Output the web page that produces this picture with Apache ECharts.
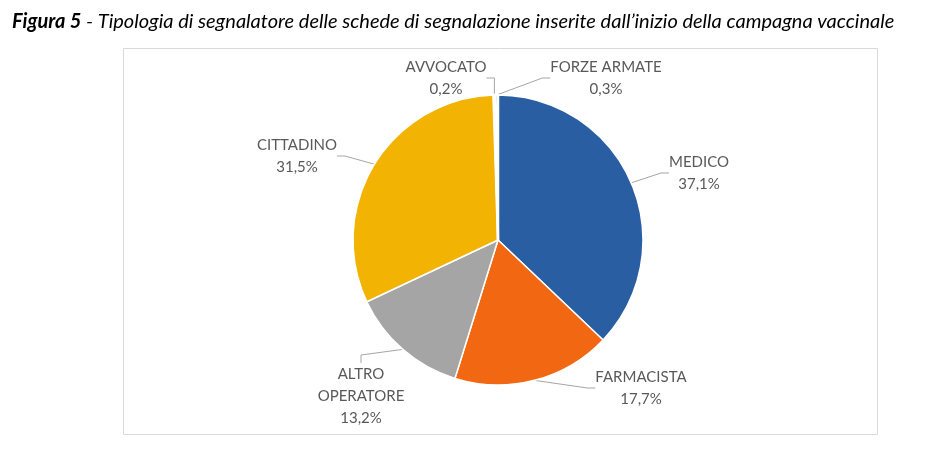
<!DOCTYPE html>
<html>
<head>
<meta charset="utf-8">
<script src="https://cdn.jsdelivr.net/npm/echarts@6/dist/echarts.min.js"></script>
<style>
html,body{margin:0;padding:0;background:#fff;}
#c{width:937px;height:464px;}
</style>
</head>
<body>
<div id="c"></div>
<script>
const categories = ['MEDICO', 'FARMACISTA', 'ALTRO OPERATORE', 'CITTADINO', 'AVVOCATO', 'FORZE ARMATE'];
const percentages = [37.1, 17.7, 13.2, 31.5, 0.2, 0.3];
const sliceColors = ['#2A5EA3', '#F26711', '#A5A5A5', '#F2B303', '#5B9BD5', '#70AD47'];
const titleBold = 'Figura 5';
const titleRest = ' - Tipologia di segnalatore delle schede di segnalazione inserite dall\u2019inizio della campagna vaccinale';

// label block centres, relative to the pie centre (layout/style only)
const PIE_CENTER = [498, 240];
const labelCenterOffsets = [[201, -67], [143, 148], [-137, 156], [-201, -84], [-52, -162], [108, -162]];
const sliceBorderWidths = [1.5, 1.5, 1.5, 1.5, 2.5, 2.5];

const chart = echarts.init(document.getElementById('c'), null, {renderer: 'canvas'});
const FONT = 'Lato, "Open Sans", sans-serif';

function fmtLabel(p) {
  const lines = p.name.split(' OPERATORE').join('\nOPERATORE').split('\n');
  lines.push(p.value.toFixed(1).replace('.', ',') + '%');
  return lines.map(l => '{c|' + l + '}').join('\n');
}

chart.setOption({
  animation: false,
  backgroundColor: '#fff',
  title: {
    text: '{b|' + titleBold + '}{r|' + titleRest + '}',
    left: 7,
    top: 7,
    textStyle: {
      rich: {
        b: {fontFamily: FONT, fontStyle: 'italic', fontWeight: 'bold', fontSize: 20, color: '#000'},
        r: {fontFamily: FONT, fontStyle: 'italic', fontWeight: 'normal', fontSize: 20, color: '#000'}
      }
    }
  },
  graphic: [{
    type: 'rect',
    left: 121, top: 46,
    shape: {width: 754, height: 386},
    style: {fill: 'none', stroke: '#d9d9d9', lineWidth: 1}
  }],
  series: [{
    type: 'pie',
    center: PIE_CENTER,
    radius: [0, 145],
    startAngle: 90,
    clockwise: true,
    avoidLabelOverlap: false,
    itemStyle: {borderColor: '#fff', borderWidth: 1.5},
    label: {
      show: true,
      position: 'outside',
      fontFamily: FONT,
      fontSize: 15,
      lineHeight: 22,
      color: '#595959',
      formatter: fmtLabel,
      rich: {c: {align: 'center', fontFamily: FONT, fontSize: 15, lineHeight: 22, color: '#595959'}}
    },
    labelLine: {
      show: true,
      length: 12,
      length2: 8,
      minTurnAngle: 60,
      lineStyle: {color: '#a6a6a6', width: 1}
    },
    labelLayout: function (p) {
      const o = labelCenterOffsets[p.dataIndex];
      return {
        x: PIE_CENTER[0] + o[0],
        y: PIE_CENTER[1] + o[1],
        align: 'center',
        verticalAlign: 'middle',
        hideOverlap: false
      };
    },
    data: categories.map((n, i) => ({
      name: n,
      value: percentages[i],
      itemStyle: {color: sliceColors[i], borderWidth: sliceBorderWidths[i]}
    }))
  }]
});
</script>
</body>
</html>
